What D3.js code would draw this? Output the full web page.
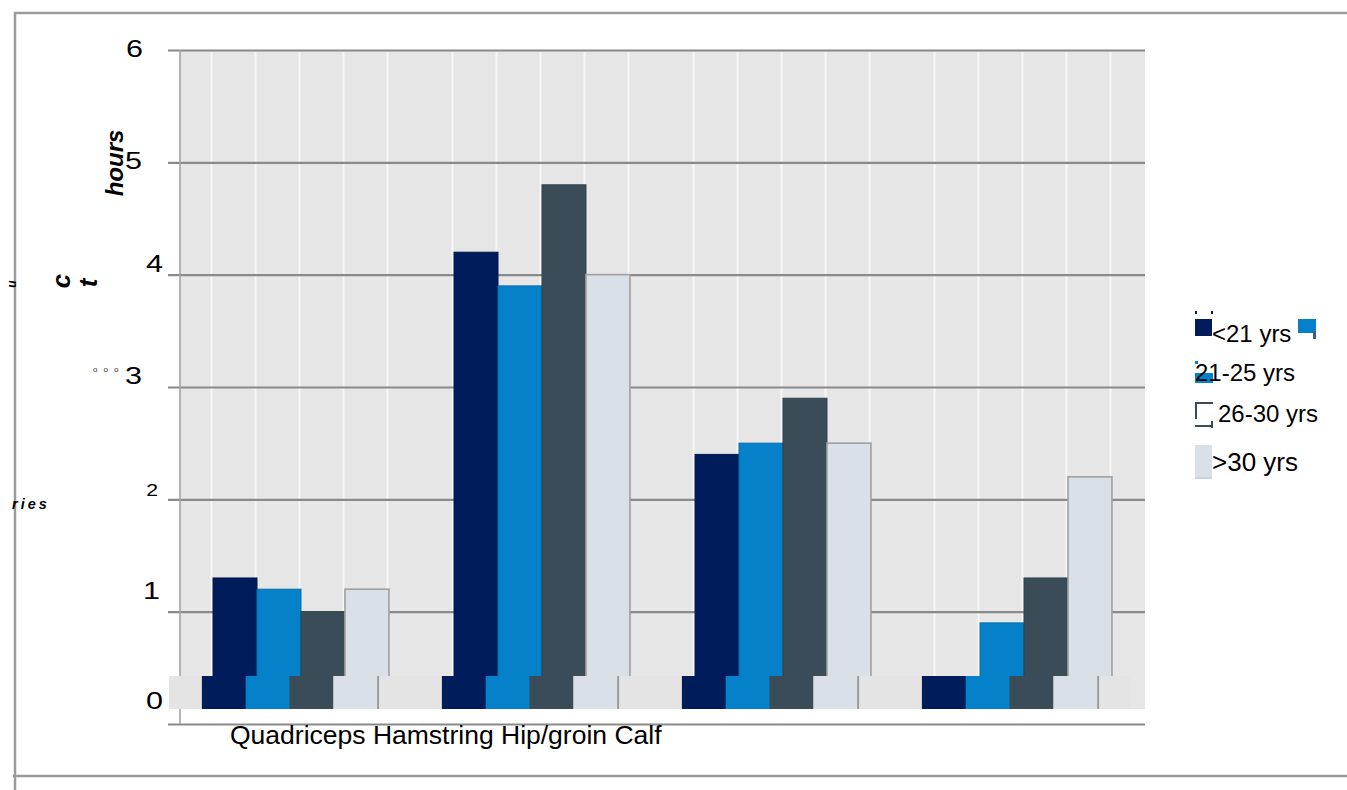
<!DOCTYPE html>
<html>
<head>
<meta charset="utf-8">
<script src="https://cdn.jsdelivr.net/npm/d3@7"></script>
<style>
  html, body { margin: 0; padding: 0; background: #ffffff; }
  svg { display: block; font-family: "Liberation Sans", Arial, sans-serif; }
</style>
</head>
<body>
<svg id="chart" width="1347" height="790"></svg>
<script>
// ---- data ----
const categories = ["Quadriceps", "Hamstring", "Hip/groin", "Calf"];
const series = ["<21 yrs", "21-25 yrs", "26-30 yrs", ">30 yrs"];
const under21 = [1.3, 4.2, 2.4, 0.4];
const age21to25 = [1.2, 3.9, 2.5, 0.9];
const age26to30 = [1.0, 4.8, 2.9, 1.3];
const over30 = [1.2, 4.0, 2.5, 2.2];
const yTicks = [0, 1, 2, 3, 4, 5, 6];
const yTitle = "hours";
const titleFragments = ["c", "t", "u"];
const sideFragment = "ries";
const tickMarks = "ooo";

const seriesValues = [under21, age21to25, age26to30, over30];
const colors = ["#011c5b", "#0481c8", "#3a4c57", "#d9e0e7"];

// ---- layout ----
const W = 1347, H = 790;
const plot = { left: 180, right: 1145, top: 50, bottom: 724 };
const svg = d3.select("#chart");

const y = d3.scaleLinear().domain([0, 6]).range([plot.bottom, plot.top]);
const x0 = d3.scaleBand().domain(categories).range([plot.left, plot.right])
  .paddingInner(0.27).paddingOuter(0.137);
const x1 = d3.scaleBand().domain(series).range([0, x0.bandwidth()]);
// base strip below the bars sits slightly to the left of the bars
const x0Strip = d3.scaleBand().domain(categories).range([plot.left - 11, plot.right - 15])
  .paddingInner(0.27).paddingOuter(0.137);
const x1Strip = d3.scaleBand().domain(series).range([0, x0Strip.bandwidth()]);

const stripTop = y(0) - 48, stripBottom = y(0) - 15;

const rows = categories.map((c, i) => ({
  cat: c,
  vals: series.map((s, j) => ({ s, v: seriesValues[j][i], j }))
}));

// outer frame
const frame = svg.append("g").attr("stroke", "#9b9b9b").attr("stroke-width", 2.5);
frame.append("line").attr("x1", 14).attr("x2", W).attr("y1", 13).attr("y2", 13);
frame.append("line").attr("x1", 15).attr("x2", 15).attr("y1", 12).attr("y2", H);
frame.append("line").attr("x1", 13).attr("x2", W).attr("y1", 776).attr("y2", 776);

// plot background
svg.append("rect")
  .attr("x", plot.left).attr("y", plot.top)
  .attr("width", plot.right - plot.left).attr("height", stripBottom - plot.top)
  .attr("fill", "#e6e6e6");

// light vertical lines at bar edges
const vlines = svg.append("g").attr("stroke", "#f6f6f6").attr("stroke-width", 2);
categories.forEach(c => {
  d3.range(series.length + 1).forEach(k => {
    const xx = x0(c) + k * x1.bandwidth() - 1.5;
    vlines.append("line").attr("x1", xx).attr("x2", xx)
      .attr("y1", plot.top + 2).attr("y2", stripTop);
  });
});

// horizontal gridlines and y tick labels
const axisLeftX = plot.left - 12;
const yAxis = d3.axisLeft(y).tickValues(yTicks)
  .tickSize(-(plot.right - axisLeftX)).tickPadding(0).tickFormat(d3.format("d"));
const gy = svg.append("g").attr("transform", `translate(${axisLeftX},0)`).call(yAxis);
gy.select(".domain").remove();
gy.selectAll(".tick line").attr("stroke", "#8a8a8a").attr("stroke-width", 2.2);

// per-tick label placement (right edge offset, vertical offset, size)
const tickLabelDx = [-5, -8, -10, -26, -5, -26, -25];
const tickLabelDy = [-24, -21, -10, -12, -11, -2, -2];
const tickLabelSize = [23, 23, 16, 23, 23, 23, 23];
gy.selectAll(".tick text").each(function (d, i) {
  const fs = tickLabelSize[i];
  d3.select(this)
    .attr("x", null).attr("dy", null).attr("y", null)
    .attr("transform", `translate(${tickLabelDx[i]},${tickLabelDy[i] + fs * 0.36}) scale(1.33,1)`)
    .attr("fill", "#000").attr("font-size", fs)
    .attr("font-family", "Liberation Sans, Arial, sans-serif");
});

// left axis line
svg.append("line").attr("x1", plot.left).attr("x2", plot.left)
  .attr("y1", plot.top).attr("y2", plot.bottom)
  .attr("stroke", "#a2a2a2").attr("stroke-width", 1.6);

// bars
svg.append("clipPath").attr("id", "plotClip").append("rect")
  .attr("x", plot.left).attr("y", plot.top - 2)
  .attr("width", plot.right - plot.left).attr("height", stripBottom - plot.top + 2);

const barG = svg.append("g").attr("clip-path", "url(#plotClip)");
barG.selectAll("g.grp").data(rows).join("g").attr("class", "grp")
  .attr("transform", d => `translate(${x0(d.cat)},0)`)
  .selectAll("rect").data(d => d.vals).join("rect")
  .attr("x", d => x1(d.s)).attr("width", x1.bandwidth())
  .attr("y", d => y(d.v)).attr("height", d => y(0) - y(d.v))
  .attr("fill", d => colors[d.j])
  .attr("stroke", d => d.j === 3 ? "#a0a0a0" : d3.color(colors[d.j]).darker(0.4))
  .attr("stroke-width", d => d.j === 3 ? 1.6 : 1);

// base strip
const strip = svg.append("g");
strip.append("rect")
  .attr("x", x0Strip.range()[0]).attr("y", stripTop)
  .attr("width", x0Strip.range()[1] - x0Strip.range()[0]).attr("height", stripBottom - stripTop)
  .attr("fill", "#e4e4e4");
strip.selectAll("g.sg").data(rows).join("g").attr("class", "sg")
  .attr("transform", d => `translate(${x0Strip(d.cat)},0)`)
  .each(function (d) {
    const g = d3.select(this);
    g.selectAll("rect").data(d.vals).join("rect")
      .attr("x", v => x1Strip(v.s)).attr("width", x1Strip.bandwidth() + 0.5)
      .attr("y", stripTop).attr("height", stripBottom - stripTop)
      .attr("fill", v => colors[v.j]);
    g.append("line")
      .attr("x1", x0Strip.bandwidth() + 1).attr("x2", x0Strip.bandwidth() + 1)
      .attr("y1", stripTop).attr("y2", stripBottom)
      .attr("stroke", "#9c9c9c").attr("stroke-width", 2);
  });

// category labels, set as one line under the axis
svg.append("text")
  .attr("x", 230).attr("y", 744)
  .attr("font-size", 26.5).attr("fill", "#000")
  .text(categories.join(" "));

// axis title and label fragments
svg.append("text")
  .attr("transform", "translate(123,163) rotate(-90)")
  .attr("text-anchor", "middle")
  .attr("font-size", 24).attr("font-weight", "bold").attr("font-style", "italic")
  .text(yTitle);
svg.append("text")
  .attr("transform", "translate(70,281) rotate(-90)")
  .attr("text-anchor", "middle")
  .attr("font-size", 26).attr("font-weight", "bold").attr("font-style", "italic")
  .text(titleFragments[0]);
svg.append("text")
  .attr("transform", "translate(97,283) rotate(-90)")
  .attr("text-anchor", "middle")
  .attr("font-size", 26).attr("font-weight", "bold").attr("font-style", "italic")
  .text(titleFragments[1]);
svg.append("text")
  .attr("transform", "translate(16,284) rotate(-90)")
  .attr("text-anchor", "middle")
  .attr("font-size", 12).attr("font-weight", "bold").attr("font-style", "italic")
  .text(titleFragments[2]);
svg.append("text")
  .attr("x", 12).attr("y", 509)
  .attr("font-size", 14.5).attr("font-weight", "bold").attr("font-style", "italic")
  .attr("letter-spacing", 3)
  .text(sideFragment);
svg.append("text")
  .attr("x", 93).attr("y", 372)
  .attr("font-size", 8).attr("letter-spacing", 6).attr("fill", "#333")
  .text(tickMarks);

// legend
const leg = svg.append("g");
const legX = 1195;
// swatches
leg.append("rect").attr("x", legX).attr("y", 319).attr("width", 17).attr("height", 17).attr("fill", colors[0]);
leg.append("rect").attr("x", legX).attr("y", 311).attr("width", 2).attr("height", 3).attr("fill", colors[0]);
leg.append("rect").attr("x", legX + 16).attr("y", 311).attr("width", 2).attr("height", 3).attr("fill", colors[0]);
leg.append("rect").attr("x", 1298).attr("y", 319).attr("width", 18).attr("height", 14).attr("fill", colors[1]);
leg.append("rect").attr("x", 1313).attr("y", 331).attr("width", 3).attr("height", 8).attr("fill", "#3a5f80");
leg.append("rect").attr("x", legX).attr("y", 373).attr("width", 18).attr("height", 10).attr("fill", colors[1]);
leg.append("rect").attr("x", legX).attr("y", 361).attr("width", 3).attr("height", 3).attr("fill", colors[1]);
leg.append("path")
  .attr("d", `M${legX + 18},403 H${legX + 1} V419`)
  .attr("fill", "none").attr("stroke", colors[2]).attr("stroke-width", 2);
leg.append("path")
  .attr("d", `M${legX},426 H${legX + 17} M${legX + 17},421 V428`)
  .attr("fill", "none").attr("stroke", colors[2]).attr("stroke-width", 2);
leg.append("rect").attr("x", legX).attr("y", 445).attr("width", 17).attr("height", 32).attr("fill", colors[3]);
leg.append("rect").attr("x", legX).attr("y", 477).attr("width", 17).attr("height", 2).attr("fill", "#c9d3dc");

const legTextX = [1212, 1195, 1218, 1212];
const legTextCy = [333, 372, 413, 462];
const legTextSize = [24, 24, 24, 26];
leg.selectAll("text.lt").data(series).join("text").attr("class", "lt")
  .attr("x", (d, i) => legTextX[i])
  .attr("y", (d, i) => legTextCy[i] + legTextSize[i] * 0.36)
  .attr("font-size", (d, i) => legTextSize[i])
  .attr("fill", "#000")
  .text(d => d);
</script>
</body>
</html>
